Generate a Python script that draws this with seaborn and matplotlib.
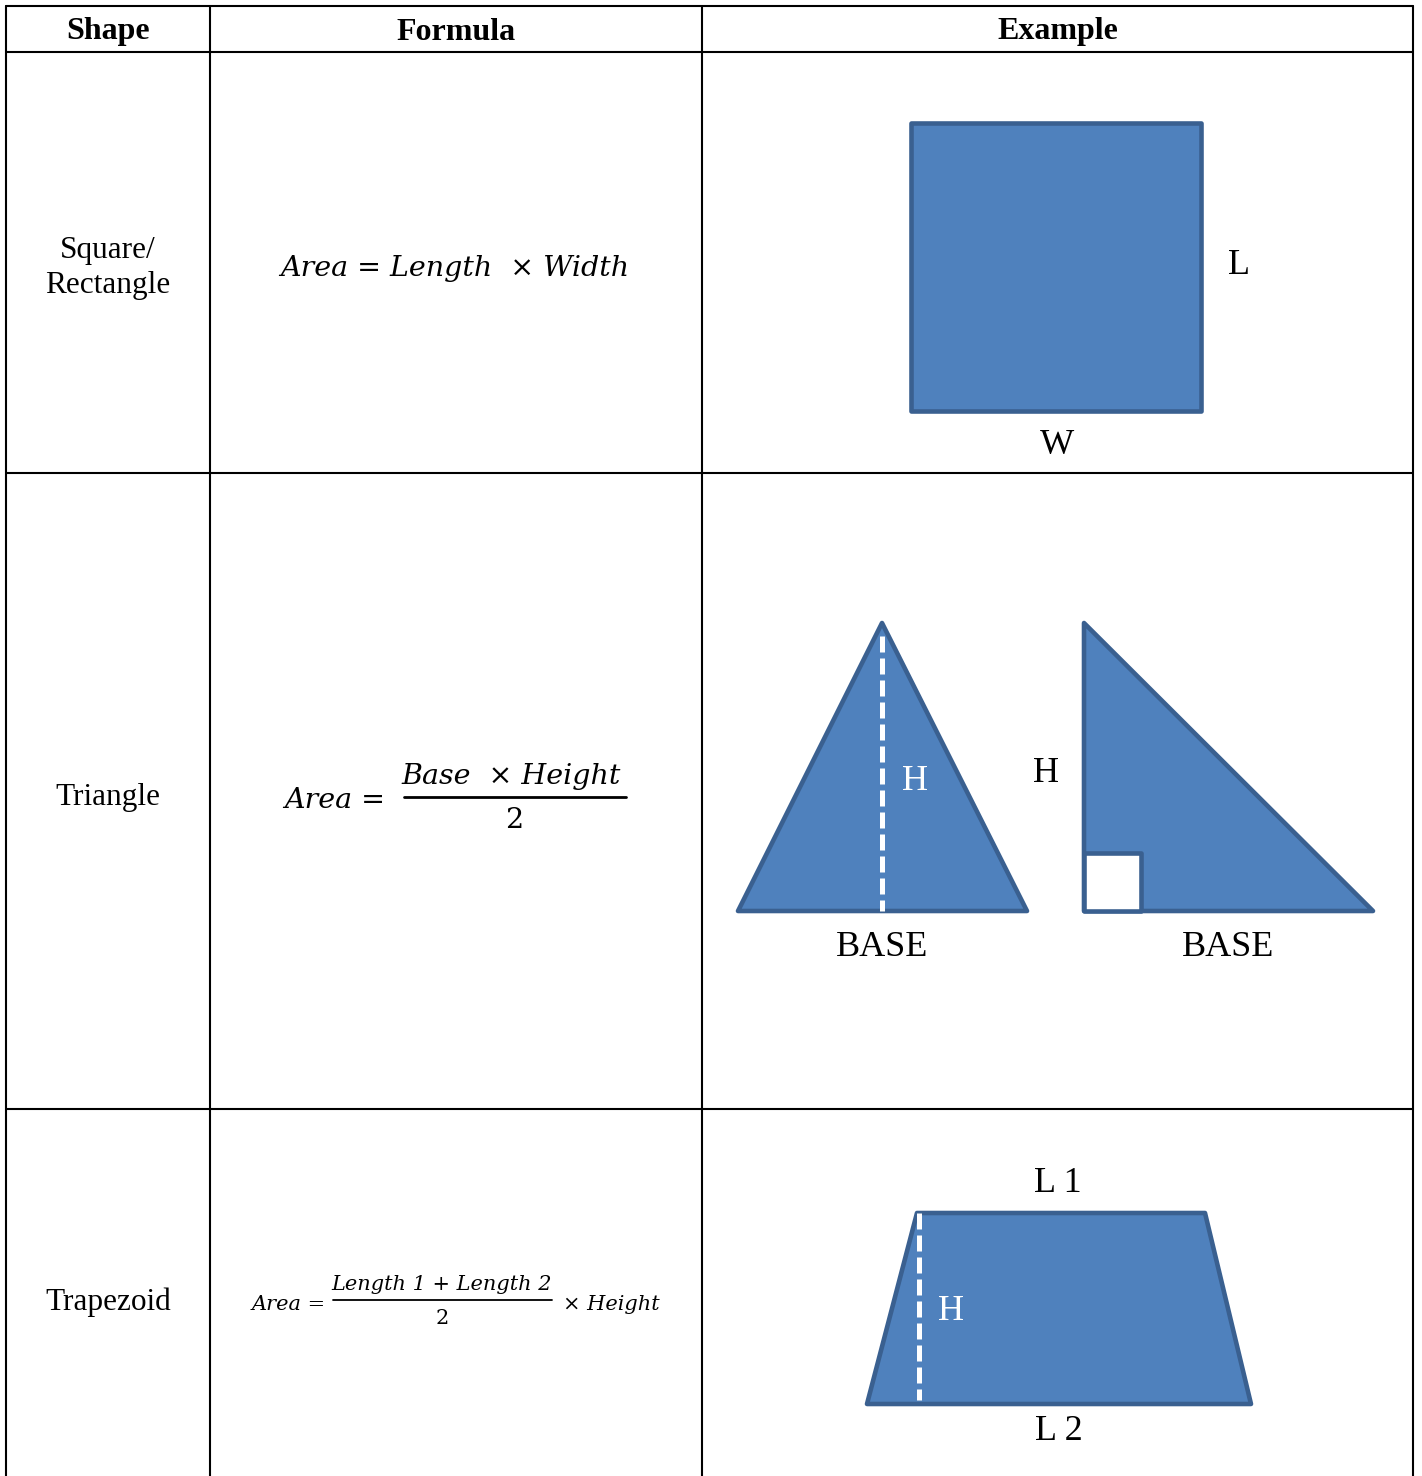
import numpy as np
import pandas as pd
from matplotlib import pyplot as plt
from matplotlib.patches import Polygon
import seaborn as sns

# table layout (pixels of the page)
col_edges = [6, 210, 702, 1413]
row_edges = [6, 52, 473, 1109, 1476]
headers = ['Shape', 'Formula', 'Example']
shape_names = ['Square/\nRectangle', 'Triangle', 'Trapezoid']
name_y = [264, 793, 1298]

# shapes in the example column
square_pts = [(911, 123), (1201, 123), (1201, 411), (911, 411)]
tri_pts = [(882, 623), (1027, 911), (738, 911)]
right_tri_pts = [(1084, 623), (1373, 911), (1084, 911)]
right_angle_pts = [(1084, 853), (1141, 853), (1141, 911), (1084, 911)]
trap_pts = [(917, 1213), (1205, 1213), (1251, 1404), (867, 1404)]
dash_lines = [((882, 636), (882, 911)), ((919, 1213), (919, 1400))]

# labels: text, x, y, colour
labels = [('L', 1239, 262, 'black'), ('W', 1057, 442, 'black'),
          ('H', 915, 777, 'white'), ('H', 1046, 769, 'black'),
          ('BASE', 882, 944, 'black'), ('BASE', 1228, 944, 'black'),
          ('L 1', 1058, 1180, 'black'), ('H', 951, 1308, 'white'),
          ('L 2', 1059, 1428, 'black')]

fill = '#4F81BD'
edge = '#3A6090'

sns.set_style('white')
plt.rcParams['font.family'] = ['Liberation Serif', 'DejaVu Serif']
plt.rcParams['text.color'] = 'black'

fig = plt.figure(figsize=(14.22, 14.76), dpi=100)
ax = fig.add_axes([0, 0, 1, 1])
ax.set_xlim(0, 1422)
ax.set_ylim(1476, 0)
ax.axis('off')

dy = 4  # text sits a little lower than its box centre

# grid of the table
for x in col_edges:
    ax.plot([x, x], [row_edges[0], row_edges[-1]], color='black', lw=1.5)
for y in row_edges[:-1]:
    ax.plot([col_edges[0], col_edges[-1]], [y, y], color='black', lw=1.5)

# header row
for i, h in enumerate(headers):
    ax.text((col_edges[i] + col_edges[i+1]) / 2, 32, h, ha='center', va='center',
            fontsize=23, fontweight='bold')

# first column
for name, yc in zip(shape_names, name_y):
    ax.text(108, yc + dy, name, ha='center', va='center', fontsize=22.5, linespacing=1.25)

# formulas
mfont = dict(family='DejaVu Serif', style='italic', color='black')
ax.text(455, 265 + dy, 'Area = Length  × Width', ha='center', va='center', fontsize=20.5, **mfont)

ax.text(335, 797 + dy, 'Area =', ha='center', va='center', fontsize=20.5, **mfont)
ax.text(511, 773 + dy, 'Base  × Height', ha='center', va='center', fontsize=20.5, **mfont)
ax.plot([404, 626], [797, 797], color='black', lw=2)
ax.text(514, 817 + dy, '2', ha='center', va='center', fontsize=20.5, family='DejaVu Serif')

ax.text(289, 1300 + dy, 'Area =', ha='center', va='center', fontsize=15, **mfont)
ax.text(442, 1281 + dy, 'Length 1 + Length 2', ha='center', va='center', fontsize=15, **mfont)
ax.plot([333, 552], [1300, 1300], color='black', lw=1.3)
ax.text(442, 1315 + dy, '2', ha='center', va='center', fontsize=15, family='DejaVu Serif')
ax.text(611, 1300 + dy, '× Height', ha='center', va='center', fontsize=15, **mfont)

# shapes
for pts in [square_pts, tri_pts, right_tri_pts, trap_pts]:
    ax.add_patch(Polygon(pts, closed=True, facecolor=fill, edgecolor=edge,
                         lw=3.3, joinstyle='round'))
ax.add_patch(Polygon(right_angle_pts, closed=True, facecolor='white', edgecolor=edge,
                     lw=3.3, joinstyle='round'))
for (x0, y0), (x1, y1) in dash_lines:
    ax.plot([x0, x1], [y0, y1], color='white', lw=3.6, ls=(0, (3.2, 1.2)))

for txt, x, y, c in labels:
    ax.text(x, y + dy, txt, ha='center', va='center', fontsize=26, color=c)

fig.savefig('out.png', dpi=100)
